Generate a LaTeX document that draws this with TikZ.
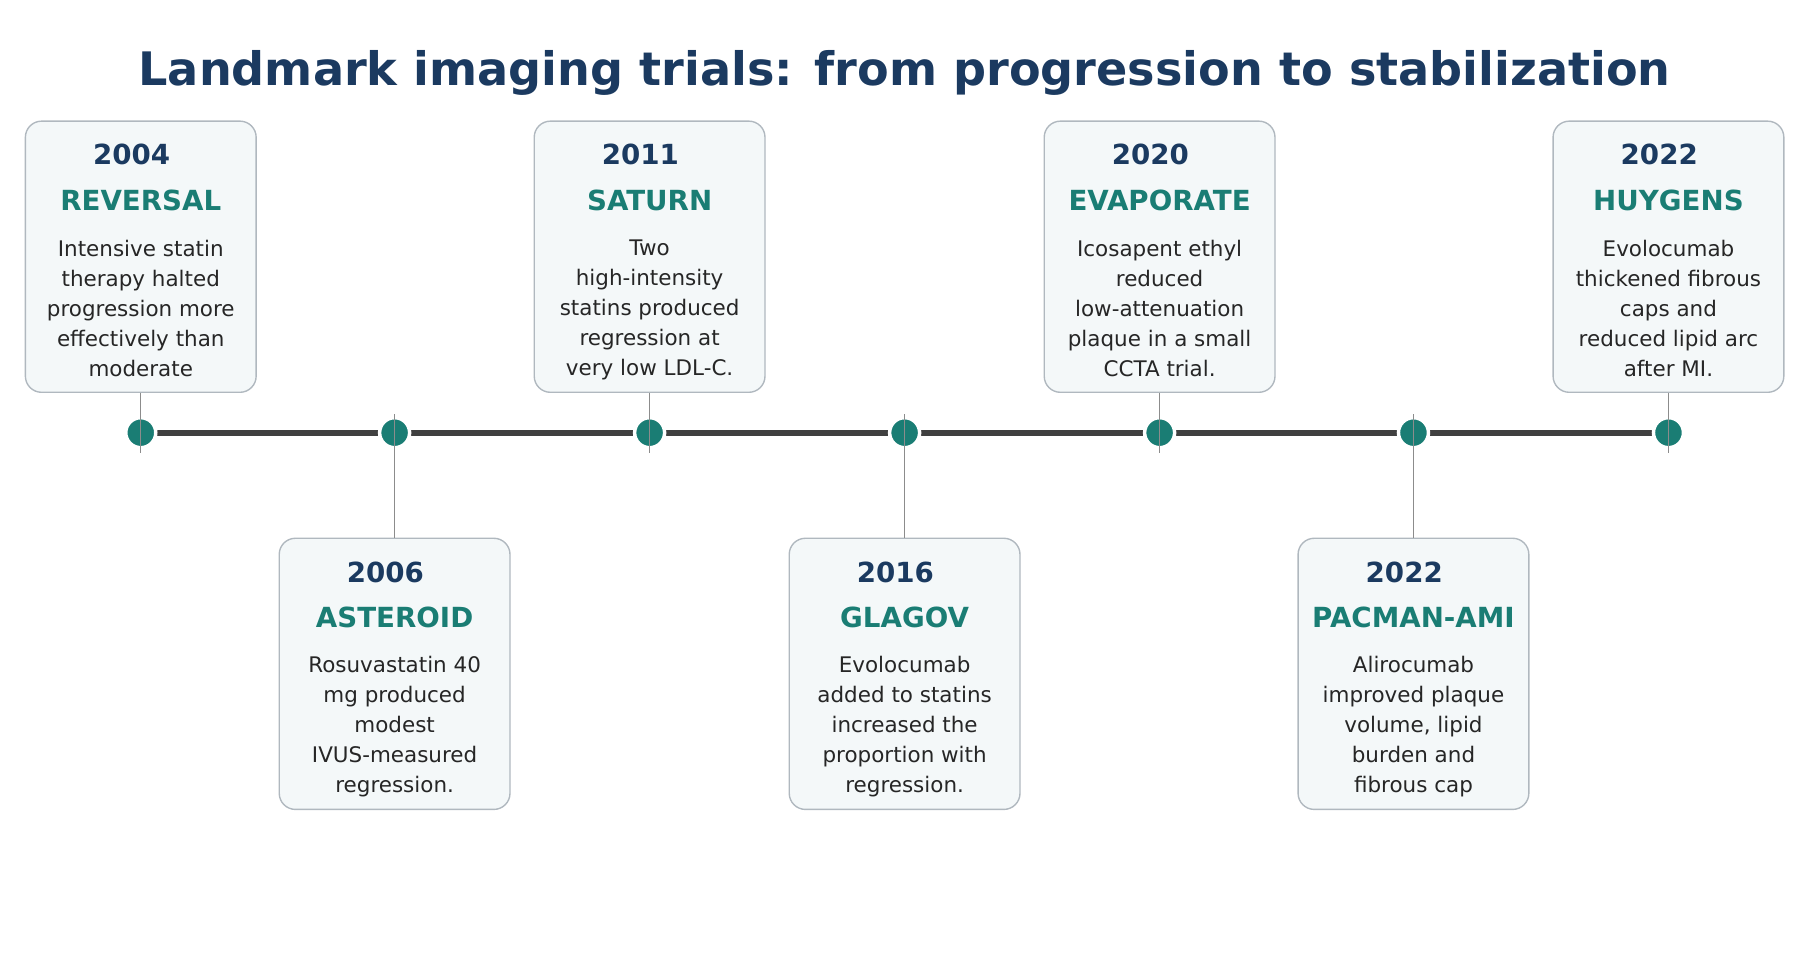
\documentclass[tikz,border=0pt]{standalone}
\usepackage{fontspec}
\setmainfont{DejaVu Sans}
\begin{document}
\definecolor{navy}{HTML}{1B3A60}
\definecolor{teal}{HTML}{1A7D74}
\definecolor{boxfill}{HTML}{F4F8F9}
\definecolor{boxline}{HTML}{B0B8BF}
\definecolor{axis}{HTML}{404040}
\begin{tikzpicture}[x=0.5pt,y=-0.5pt,
  card/.style={draw=boxline,fill=boxfill,rounded corners=7pt,line width=0.6pt,minimum width=100pt,minimum height=117.5pt,inner sep=0pt},
  yr/.style={font=\fontsize{12}{14}\selectfont\bfseries,text=navy},
  nm/.style={font=\fontsize{12}{14}\selectfont\bfseries,text=teal},
  bd/.style={font=\fontsize{9.3}{13}\selectfont,text=black!85,align=center,anchor=north},
  dot/.style={circle,fill=teal,draw=white,line width=1.5pt,minimum size=13pt,inner sep=0pt},
  stem/.style={draw=gray!90,line width=0.6pt}]
\useasboundingbox (0,0) rectangle (1560,849.3);
\node[font=\fontsize{20}{24}\selectfont\bfseries,text=navy] (title) at (784,63) {Landmark imaging trials: from progression to stabilization};
% axis
\coordinate (L) at (122,375); \coordinate (R) at (1446,375);
\draw[axis,line width=2.5pt] (L) -- (R);
\foreach \i/\x in {1/122,2/342,3/563,4/784,5/1005,6/1225,7/1446}{
  \node[dot] (d\i) at (\x,375) {};
}
% cards: top
\newcommand{\cardtop}[5]{%
  \node[card] (c#1) at (#2,222.5) {};
  \node[yr] (y#1) at (#2-8,134) {#3};
  \node[nm] (n#1) at (#2,174) {#4};
  \node[bd] (b#1) at (#2,201) {#5};
  \draw[stem] (c#1.south) -- ([yshift=-9pt]d#1.center);
}
\newcommand{\cardbot}[5]{%
  \node[card] (c#1) at (#2,584) {};
  \node[yr] (y#1) at (#2-8,496) {#3};
  \node[nm] (n#1) at (#2,535) {#4};
  \node[bd] (b#1) at (#2,562) {#5};
  \draw[stem] ([yshift=8pt]d#1.center) -- (c#1.north);
}
\cardtop{1}{122}{2004}{REVERSAL}{Intensive statin\\therapy halted\\progression more\\effectively than\\moderate}
\cardbot{2}{342}{2006}{ASTEROID}{Rosuvastatin 40\\mg produced\\modest\\IVUS-measured\\regression.}
\cardtop{3}{563}{2011}{SATURN}{Two\\high-intensity\\statins produced\\regression at\\very low LDL-C.}
\cardbot{4}{784}{2016}{GLAGOV}{Evolocumab\\added to statins\\increased the\\proportion with\\regression.}
\cardtop{5}{1005}{2020}{EVAPORATE}{Icosapent ethyl\\reduced\\low-attenuation\\plaque in a small\\CCTA trial.}
\cardbot{6}{1225}{2022}{PACMAN-AMI}{Alirocumab\\improved plaque\\volume, lipid\\burden and\\fibrous cap}
\cardtop{7}{1446}{2022}{HUYGENS}{Evolocumab\\thickened fibrous\\caps and\\reduced lipid arc\\after MI.}
\end{tikzpicture}
\end{document}
